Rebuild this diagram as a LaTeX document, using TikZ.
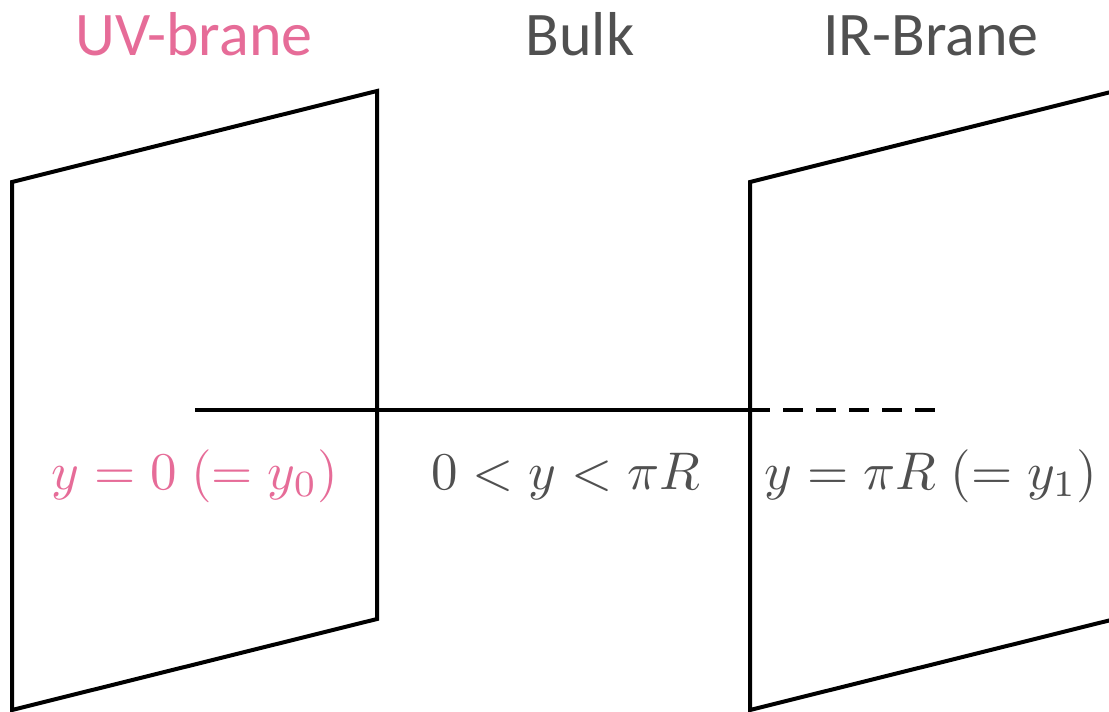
\documentclass[tikz,border=0pt]{standalone}
\usepackage{graphicx}
\usepackage{fontspec}
\setmainfont{Carlito}
\definecolor{uvpink}{RGB}{230,108,152}
\definecolor{txtgray}{RGB}{80,80,80}
\newcommand{\bigmath}[1]{\scalebox{5.3}{$#1$}}
\tikzset{
  brane/.style={draw=black,line width=4pt,line join=miter},
  title/.style={anchor=base,font=\fontsize{62}{70}\selectfont,inner sep=0pt},
  mlabel/.style={anchor=base,inner sep=0pt},
  axis/.style={draw=black,line width=3.5pt},
  axisdash/.style={draw=black,line width=3.5pt,dash pattern=on 20pt off 13pt}
}
\begin{document}
\begin{tikzpicture}[x=1pt,y=-1pt]
\useasboundingbox (0,0) rectangle (1109,712);
\clip (0,0) rectangle (1109,712);
% left brane
\coordinate (l1) at (12,182);
\coordinate (l2) at (377,91);
\coordinate (l3) at (377,619);
\coordinate (l4) at (12,710);
\draw[brane] (l1) -- (l2) -- (l3) -- (l4) -- cycle;
% right brane
\coordinate (r1) at (750,182);
\coordinate (r2) at (1115,91);
\coordinate (r3) at (1115,619);
\coordinate (r4) at (750,710);
\draw[brane] (r1) -- (r2) -- (r3) -- (r4) -- cycle;
% axis
\coordinate (a0) at (195,410);
\coordinate (a1) at (750,410);
\coordinate (a2) at (935,410);
\draw[axis] (a0) -- (a1);
\draw[axisdash] (a1) -- (a2);
% titles
\node[title,text=uvpink] (uv) at (194,55) {UV-brane};
\node[title,text=txtgray] (bulk) at (580,55) {Bulk};
\node[title,text=txtgray] (ir) at (931,55) {IR-Brane};
% math labels
\node[mlabel,text=uvpink] (m0) at (195,489) {\bigmath{y=0\;(=y_0)}};
\node[mlabel,text=txtgray] (m1) at (566,489) {\bigmath{0<y<\pi R}};
\node[mlabel,text=txtgray] (m2) at (931,489) {\bigmath{y=\pi R\;(=y_1)}};
\end{tikzpicture}
\end{document}
